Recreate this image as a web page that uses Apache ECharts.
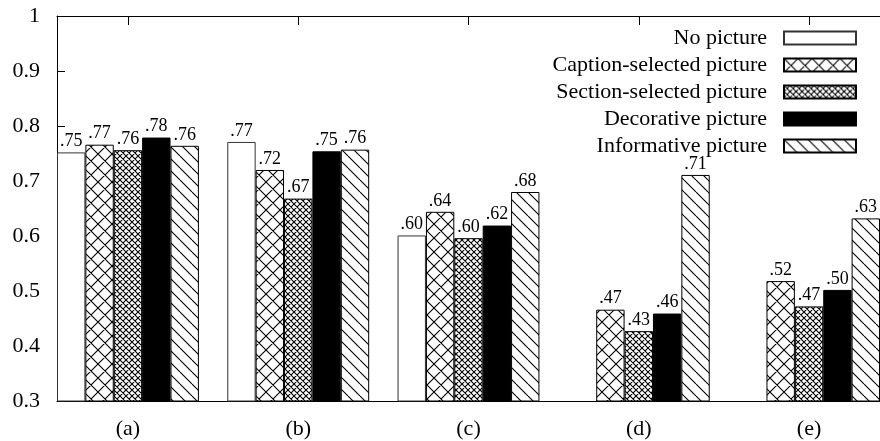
<!DOCTYPE html>
<html>
<head>
<meta charset="utf-8">
<script src="https://cdn.jsdelivr.net/npm/echarts@6/dist/echarts.min.js"></script>
<style>
html,body{margin:0;padding:0;background:#fff;}
#chart{width:880px;height:441px;}
</style>
</head>
<body>
<div id="chart"></div>
<script>
const categories = ['(a)', '(b)', '(c)', '(d)', '(e)'];
const seriesNames = ['No picture', 'Caption-selected picture', 'Section-selected picture', 'Decorative picture', 'Informative picture'];
const noPicture        = [0.752, 0.771, 0.601, null, null];
const captionSelected  = [0.766, 0.720, 0.644, 0.466, 0.518];
const sectionSelected  = [0.756, 0.668, 0.596, 0.427, 0.472];
const decorative       = [0.779, 0.754, 0.619, 0.459, 0.502];
const informative      = [0.764, 0.757, 0.680, 0.711, 0.632];
const yMin = 0.3, yMax = 1, yStep = 0.1;
const categoryPositions = categories.map((c, i) => i);

const FONT = 'Liberation Serif';

function hatchCanvas(P, dirs) {
  const c = document.createElement('canvas');
  c.width = P; c.height = P;
  const ctx = c.getContext('2d');
  ctx.fillStyle = '#fff';
  ctx.fillRect(0, 0, P, P);
  ctx.strokeStyle = '#000';
  ctx.lineWidth = 1.1;
  ctx.beginPath();
  for (let k = -1; k <= 1; k++) {
    if (dirs.indexOf('\\') >= 0) { ctx.moveTo(k * P, 0); ctx.lineTo(k * P + P, P); }
    if (dirs.indexOf('/') >= 0) { ctx.moveTo(k * P, P); ctx.lineTo(k * P + P, 0); }
  }
  ctx.stroke();
  return { image: c, repeat: 'repeat' };
}

const fills = [
  '#ffffff',
  hatchCanvas(14, '\\/'),
  hatchCanvas(6, '\\/'),
  '#000000',
  hatchCanvas(12, '\\')
];
const borderColors = ['#333', '#000', '#000', '#000', '#000'];
const allValues = [noPicture, captionSelected, sectionSelected, decorative, informative];

const series = allValues.map((vals, si) => ({
  name: seriesNames[si],
  type: 'bar',
  barGap: '0%',
  barCategoryGap: '16.667%',
  data: vals.map((v, i) => [categoryPositions[i], v]),
  itemStyle: { color: fills[si], borderColor: borderColors[si], borderWidth: 1 },
  label: {
    show: true,
    position: 'top',
    distance: 2,
    color: '#000',
    fontFamily: FONT,
    fontSize: 18,
    formatter: p => (p.value[1] == null ? '' : p.value[1].toFixed(2).replace(/^0/, ''))
  },
  emphasis: { disabled: true }
}));

const xMin = -5 / 12, xMax = categories.length - 1 + 5 / 12;

const chart = echarts.init(document.getElementById('chart'), null, { renderer: 'canvas' });
chart.setOption({
  animation: false,
  backgroundColor: '#fff',
  grid: { left: 57, right: -8, top: 16, bottom: 40, containLabel: false },
  legend: {
    orient: 'vertical',
    align: 'right',
    right: 23,
    top: 27,
    padding: 0,
    icon: 'rect',
    itemWidth: 72,
    itemHeight: 13,
    itemGap: 5,
    data: seriesNames,
    textStyle: { fontFamily: FONT, fontSize: 22, color: '#000', lineHeight: 22, padding: [0, 12, 0, 0] },
    selectedMode: false
  },
  xAxis: [
    {
      type: 'value', position: 'bottom', min: xMin, max: xMax,
      axisLine: { show: true, onZero: false, lineStyle: { color: '#000', width: 1 } },
      axisTick: { show: false },
      axisLabel: {
        show: true, customValues: categoryPositions,
        formatter: v => categories[Math.round(v)] || '',
        fontFamily: FONT, fontSize: 22, color: '#000', margin: 17
      },
      splitLine: { show: false }
    },
    {
      type: 'value', position: 'top', min: xMin, max: xMax,
      axisLine: { show: true, onZero: false, lineStyle: { color: '#000', width: 1 } },
      axisTick: { show: true, inside: true, length: 9, customValues: categoryPositions, lineStyle: { color: '#000', width: 1 } },
      axisLabel: { show: false },
      splitLine: { show: false }
    }
  ],
  yAxis: {
    type: 'value', min: yMin, max: yMax, interval: yStep,
    axisLine: { show: true, onZero: false, lineStyle: { color: '#000', width: 1 } },
    axisTick: { show: true, inside: true, length: 8, lineStyle: { color: '#000', width: 1 } },
    axisLabel: {
      fontFamily: FONT, fontSize: 22, color: '#000', margin: 17,
      formatter: v => String(Math.round(v * 10) / 10)
    },
    splitLine: { show: false }
  },
  series: series
});
</script>
</body>
</html>
